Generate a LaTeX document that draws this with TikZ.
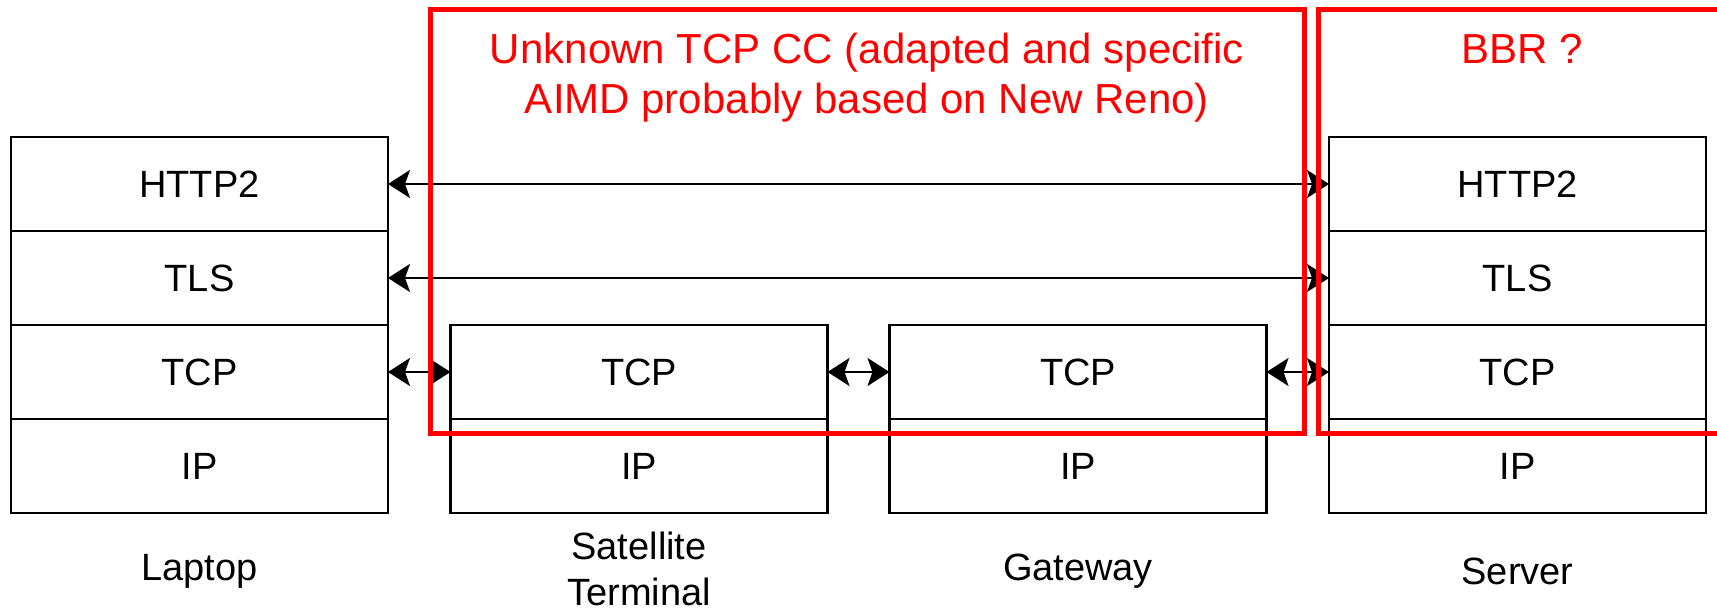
\documentclass[tikz,border=0pt]{standalone}
\usepackage{fontspec}
\setmainfont{Liberation Sans}
\usetikzlibrary{arrows.meta,positioning}
\tikzset{
    layer/.style={draw,line width=1.25pt,minimum width=188.5pt,minimum height=47pt,
        inner sep=0pt,outer sep=0pt,font=\fontsize{19}{23}\selectfont},
    hostname/.style={align=center,font=\fontsize{19}{23}\selectfont},
    ccbox/.style={draw=red,line width=2.5pt,inner sep=0pt,outer sep=0pt},
    cclabel/.style={text=red,align=center,font=\fontsize{21}{25}\selectfont},
    link/.style={line width=1.25pt,
        {Stealth[length=11pt,width=14pt,inset=2.5pt]}-{Stealth[length=11pt,width=14pt,inset=2.5pt]}}
}

\begin{document}
\begin{tikzpicture}[x=0.5pt,y=-0.5pt]
    \useasboundingbox (0,0) rectangle (1717,611);

    % end hosts: full stack
    \node[layer] (lap-http) at (199.5,184) {HTTP2};
    \node[layer,below=0pt of lap-http] (lap-tls) {TLS};
    \node[layer,below=0pt of lap-tls] (lap-tcp) {TCP};
    \node[layer,below=0pt of lap-tcp] (lap-ip) {IP};

    \node[layer] (srv-http) at (1517.5,184) {HTTP2};
    \node[layer,below=0pt of srv-http] (srv-tls) {TLS};
    \node[layer,below=0pt of srv-tls] (srv-tcp) {TCP};
    \node[layer,below=0pt of srv-tcp] (srv-ip) {IP};

    % PEPs in between: TCP split
    \node[layer] (sat-tcp) at (639,372) {TCP};
    \node[layer,below=0pt of sat-tcp] (sat-ip) {IP};

    \node[layer] (gw-tcp) at (1078,372) {TCP};
    \node[layer,below=0pt of gw-tcp] (gw-ip) {IP};

    % host names
    \node[hostname] (lap-name) at ([yshift=-29pt]lap-ip.south) {Laptop};
    \node[hostname] (sat-name) at ([yshift=-28pt]sat-ip.south) {Satellite\\Terminal};
    \node[hostname] (gw-name) at ([yshift=-29pt]gw-ip.south) {Gateway};
    \node[hostname] (srv-name) at ([yshift=-29pt]srv-ip.south) {Server};

    % end-to-end and split connections
    \draw[link] (lap-http.east) -- (srv-http.west);
    \draw[link] (lap-tls.east) -- (srv-tls.west);
    \draw[link] (lap-tcp.east) -- (sat-tcp.west);
    \draw[link] (sat-tcp.east) -- (gw-tcp.west);
    \draw[link] (gw-tcp.east) -- (srv-tcp.west);

    % congestion control domains
    \node[ccbox,minimum width=437pt,minimum height=212pt] (cc-pep) at (867,221) {};
    \node[ccbox,minimum width=204pt,minimum height=212pt] (cc-srv) at (1522,221) {};
    \node[cclabel] (cc-pep-text) at (867,78) {Unknown TCP CC (adapted and specific\\AIMD probably based on New Reno)};
    \node[cclabel] (cc-srv-text) at (1522,49) {BBR ?};
\end{tikzpicture}
\end{document}
